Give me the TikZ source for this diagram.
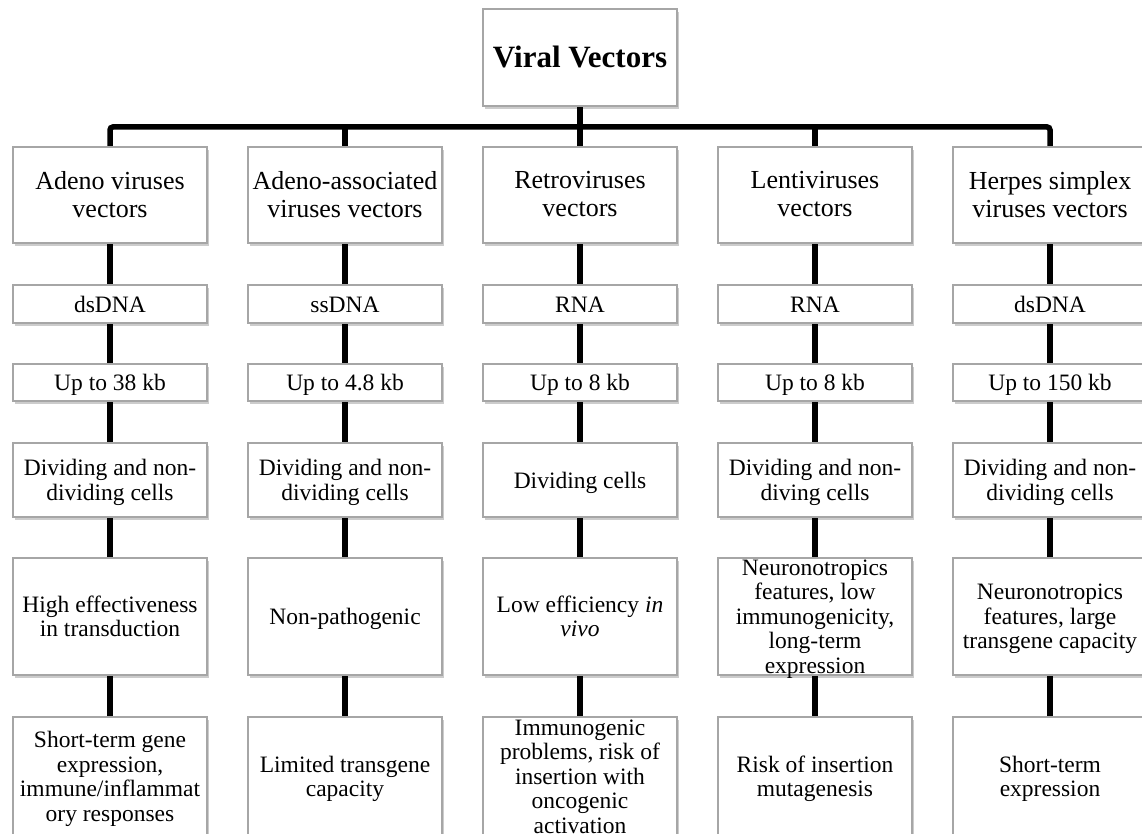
\documentclass[tikz,border=0pt]{standalone}
\usepackage{fontspec}
\setmainfont{Liberation Serif}
\usetikzlibrary{shadows,backgrounds}
\begin{document}
\begin{tikzpicture}[x=1pt,y=-1pt,
  cell/.style={draw=gray!70, line width=1.1pt, fill=white, minimum width=194pt, inner sep=0pt,
    drop shadow={shadow xshift=1.5pt, shadow yshift=-3pt, fill=black, opacity=0.2}},
  txt/.style={align=center, inner sep=0pt, yshift=-3.5pt, font=\fontsize{23.5}{24.5}\selectfont,
    execute at begin node={\strut}, execute at end node={\strut}},
  headtxt/.style={txt, font=\fontsize{26}{28}\selectfont},
  conn/.style={line width=5.5pt, black}]
\useasboundingbox (0,0) rectangle (1142,834);

% title
\node[cell, minimum height=97pt] (title) at (580,57.5) {};
\node[txt, font=\fontsize{31}{33}\selectfont\bfseries] (titletxt) at (title) {Viral Vectors};

% rows: centers / heights
\foreach \c/\x in {a/110,b/345,c/580,d/815,e/1050}{
  \node[cell, minimum height=96pt]  (\c1) at (\x,195) {};
  \node[cell, minimum height=38pt]  (\c2) at (\x,304) {};
  \node[cell, minimum height=37pt]  (\c3) at (\x,382.5) {};
  \node[cell, minimum height=74pt]  (\c4) at (\x,480) {};
  \node[cell, minimum height=117pt] (\c5) at (\x,616.5) {};
  \node[cell, minimum height=119pt] (\c6) at (\x,776.5) {};
}

% column 1
\node[headtxt] (ta1) at (a1) {Adeno viruses\\vectors};
\node[txt] (ta2) at (a2) {dsDNA};
\node[txt] (ta3) at (a3) {Up to 38 kb};
\node[txt] (ta4) at (a4) {Dividing and non-\\dividing cells};
\node[txt] (ta5) at (a5) {High effectiveness\\in transduction};
\node[txt] (ta6) at (a6) {Short-term gene\\expression,\\immune/inflammat\\ory responses};
% column 2
\node[headtxt] (tb1) at (b1) {Adeno-associated\\viruses vectors};
\node[txt] (tb2) at (b2) {ssDNA};
\node[txt] (tb3) at (b3) {Up to 4.8 kb};
\node[txt] (tb4) at (b4) {Dividing and non-\\dividing cells};
\node[txt] (tb5) at (b5) {Non-pathogenic};
\node[txt] (tb6) at (b6) {Limited transgene\\capacity};
% column 3
\node[headtxt] (tc1) at (c1) {Retroviruses\\vectors};
\node[txt] (tc2) at (c2) {RNA};
\node[txt] (tc3) at (c3) {Up to 8 kb};
\node[txt] (tc4) at (c4) {Dividing cells};
\node[txt] (tc5) at (c5) {Low efficiency \textit{in}\\\textit{vivo}};
\node[txt] (tc6) at (c6) {Immunogenic\\problems, risk of\\insertion with\\oncogenic\\activation};
% column 4
\node[headtxt] (td1) at (d1) {Lentiviruses\\vectors};
\node[txt] (td2) at (d2) {RNA};
\node[txt] (td3) at (d3) {Up to 8 kb};
\node[txt] (td4) at (d4) {Dividing and non-\\diving cells};
\node[txt] (td5) at (d5) {Neuronotropics\\features, low\\immunogenicity,\\long-term\\expression};
\node[txt] (td6) at (d6) {Risk of insertion\\mutagenesis};
% column 5
\node[headtxt] (te1) at (e1) {Herpes simplex\\viruses vectors};
\node[txt] (te2) at (e2) {dsDNA};
\node[txt] (te3) at (e3) {Up to 150 kb};
\node[txt] (te4) at (e4) {Dividing and non-\\dividing cells};
\node[txt] (te5) at (e5) {Neuronotropics\\features, large\\transgene capacity};
\node[txt] (te6) at (e6) {Short-term\\expression};

% connectors
\begin{scope}[on background layer]
  \fill[white] (0,0) rectangle (1142,834);
  \draw[conn] (title.south) -- (c1.north);
  \draw[conn, rounded corners=3pt] (a1.north) -- ++(0,-19.5) -| (e1.north);
  \draw[conn] (b1.north) -- ++(0,-19.5);
  \draw[conn] (d1.north) -- ++(0,-19.5);
  \foreach \c in {a,b,c,d,e}{
    \foreach \i/\j in {1/2,2/3,3/4,4/5,5/6}{
      \draw[conn] (\c\i.south) -- (\c\j.north);
    }
  }
\end{scope}
\end{tikzpicture}
\end{document}
